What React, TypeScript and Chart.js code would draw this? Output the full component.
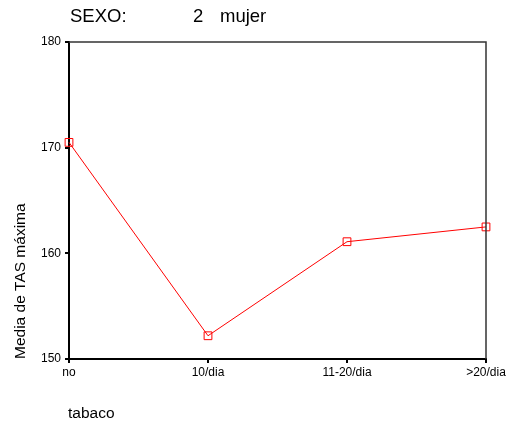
import React, { useEffect, useRef } from "react";
import { Chart, registerables } from "chart.js";

Chart.register(...registerables);

const categories = ["no", "10/dia", "11-20/dia", ">20/dia"];
const meanValues = [170.5, 152.2, 161.1, 162.5];
const yTicks = [150, 160, 170, 180];
const titleParts = ["SEXO:", "2", "mujer"];
const yAxisTitle = "Media de TAS máxima";
const xAxisTitle = "tabaco";

const FONT = "'Liberation Sans', Arial, Helvetica, sans-serif";

export default function App() {
  const ref = useRef<HTMLCanvasElement | null>(null);

  useEffect(() => {
    if (!ref.current) return;
    const textPlugin = {
      id: "textPlugin",
      afterDraw(chart: any) {
        const ctx = chart.ctx;
        const a = chart.chartArea;
        ctx.save();
        // frame
        ctx.strokeStyle = "#333";
        ctx.lineWidth = 1.5;
        ctx.beginPath();
        ctx.moveTo(a.left, a.top);
        ctx.lineTo(a.right, a.top);
        ctx.lineTo(a.right, a.bottom);
        ctx.stroke();
        // title
        ctx.fillStyle = "#000";
        ctx.font = `18.5px ${FONT}`;
        ctx.textBaseline = "alphabetic";
        ctx.textAlign = "left";
        ctx.fillText(titleParts[0], 70, 22);
        ctx.fillText(titleParts[1], 193, 22);
        ctx.fillText(titleParts[2], 220, 22);
        // x title
        ctx.font = `15.5px ${FONT}`;
        ctx.fillText(xAxisTitle, 68, 418);
        // y title
        ctx.translate(25, a.bottom);
        ctx.rotate(-Math.PI / 2);
        ctx.textAlign = "left";
        ctx.textBaseline = "alphabetic";
        ctx.fillText(yAxisTitle, 0, 0);
        ctx.restore();
      },
    };

    const chart = new Chart(ref.current, {
      type: "line",
      data: {
        labels: categories,
        datasets: [
          {
            data: meanValues,
            borderColor: "rgb(255,0,0)",
            borderWidth: 1,
            backgroundColor: "rgba(0,0,0,0)",
            pointStyle: "rect",
            pointRadius: 5.5,
            pointBorderWidth: 1,
            pointBorderColor: "rgb(255,0,0)",
            pointBackgroundColor: "rgba(0,0,0,0)",
            tension: 0,
            fill: false,
          },
        ],
      },
      options: {
        responsive: false,
        animation: false,
        devicePixelRatio: 1,
        layout: { padding: { top: 42, right: 26, left: 0, bottom: 0 } },
        plugins: {
          legend: { display: false },
          tooltip: { enabled: false },
          title: { display: false },
        },
        scales: {
          x: {
            type: "category",
            offset: false,
            grid: {
              display: true,
              drawOnChartArea: false,
              drawTicks: true,
              tickLength: 4,
              color: "#000",
              lineWidth: 2,
            },
            border: { display: true, color: "#000", width: 2 },
            ticks: {
              color: "#000",
              font: { family: FONT, size: 12 },
              padding: 2,
              maxRotation: 0,
              autoSkip: false,
            },
            afterFit: (scale: any) => {
              scale.height = 66;
            },
          },
          y: {
            min: 150,
            max: 180,
            afterBuildTicks: (scale: any) => {
              scale.ticks = yTicks.map((v) => ({ value: v }));
            },
            grid: {
              display: true,
              drawOnChartArea: false,
              drawTicks: true,
              tickLength: 4,
              color: "#000",
              lineWidth: 2,
            },
            border: { display: true, color: "#000", width: 2 },
            ticks: {
              color: "#000",
              font: { family: FONT, size: 12 },
              padding: 4,
            },
            afterFit: (scale: any) => {
              scale.width = 69;
            },
          },
        },
      },
      plugins: [textPlugin],
    });
    return () => chart.destroy();
  }, []);

  return (
    <canvas
      ref={ref}
      width={512}
      height={425}
      style={{ position: "fixed", left: 0, top: 0, width: 512, height: 425, display: "block", background: "#fff" }}
    />
  );
}
